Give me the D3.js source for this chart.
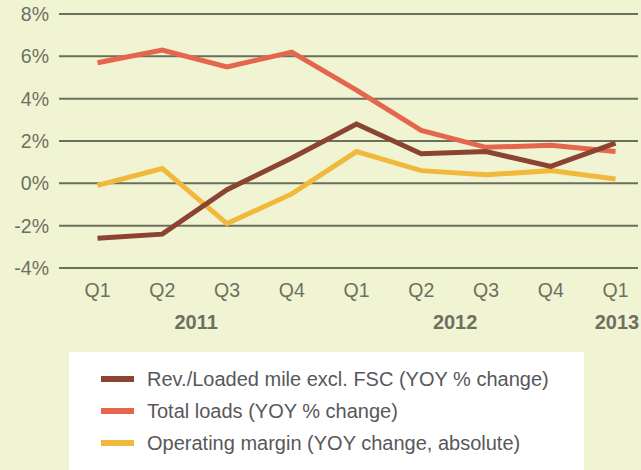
<!DOCTYPE html>
<html>
<head>
<meta charset="utf-8">
<script src="https://cdn.jsdelivr.net/npm/d3@7"></script>
<style>
body { margin: 0; background: #f1f4d3; }
svg { display: block; font-family: "Liberation Sans", Arial, sans-serif; }
</style>
</head>
<body>
<svg id="svg"></svg>
<script>
var width = 641, height = 470;

var quarters = ["Q1", "Q2", "Q3", "Q4", "Q1", "Q2", "Q3", "Q4", "Q1"];
var years = [{ label: "2011", pos: 1.5 }, { label: "2012", pos: 5.5 }, { label: "2013", pos: 8 }];
var yTicks = [-4, -2, 0, 2, 4, 6, 8];

var revPerMile = [-2.6, -2.4, -0.3, 1.2, 2.8, 1.4, 1.5, 0.8, 1.9];
var totalLoads = [5.7, 6.3, 5.5, 6.2, 4.4, 2.5, 1.7, 1.8, 1.5];
var opMargin = [-0.1, 0.7, -1.9, -0.5, 1.5, 0.6, 0.4, 0.6, 0.2];

var seriesNames = ["Rev./Loaded mile excl. FSC (YOY % change)", "Total loads (YOY % change)", "Operating margin (YOY change, absolute)"];
var seriesColors = ["#8b4332", "#e5664c", "#f1b93c"];
var series = [revPerMile, totalLoads, opMargin];

var svg = d3.select("#svg")
	.attr("width", width)
	.attr("height", height);

var x = d3.scaleLinear()
	.domain([0, 8])
	.range([97.5, 615.5]);

var y = d3.scaleLinear()
	.domain([-4, 8])
	.range([268, 14]);

// gridlines
svg.append("g")
	.selectAll("line")
	.data(yTicks)
	.enter()
	.append("line")
	.attr("x1", 59)
	.attr("x2", 638)
	.attr("y1", function(d) { return y(d); })
	.attr("y2", function(d) { return y(d); })
	.attr("stroke", "#6b705c")
	.attr("stroke-width", 2);

// y labels
svg.append("g")
	.selectAll("text")
	.data(yTicks)
	.enter()
	.append("text")
	.attr("x", 49)
	.attr("y", function(d) { return y(d); })
	.attr("dy", "0.36em")
	.attr("text-anchor", "end")
	.attr("font-size", "19.5px")
	.attr("fill", "#6d7061")
	.text(function(d) { return d + "%"; });

// quarter labels
svg.append("g")
	.selectAll("text")
	.data(quarters)
	.enter()
	.append("text")
	.attr("x", function(d, i) { return x(i); })
	.attr("y", 297)
	.attr("text-anchor", "middle")
	.attr("font-size", "19.5px")
	.attr("fill", "#6d7061")
	.text(function(d) { return d; });

// year labels
svg.append("g")
	.selectAll("text")
	.data(years)
	.enter()
	.append("text")
	.attr("x", function(d) { return x(d.pos) + 1.5; })
	.attr("y", 329)
	.attr("text-anchor", "middle")
	.attr("font-size", "20px")
	.attr("font-weight", "bold")
	.attr("fill", "#6d7061")
	.text(function(d) { return d.label; });

var lineGenerator = d3.line()
	.x(function(d, i) { return x(i); })
	.y(function(d) { return y(d); });

// draw lines: yellow first, then red, then brown on top
[2, 1, 0].forEach(function(k) {
	svg.append("path")
		.attr("fill", "none")
		.attr("stroke", seriesColors[k])
		.attr("stroke-width", 5)
		.attr("stroke-linejoin", "miter")
		.attr("d", lineGenerator(series[k]));
});

// legend
var legend = svg.append("g").attr("class", "legend");

legend.append("rect")
	.attr("x", 69)
	.attr("y", 352)
	.attr("width", 515)
	.attr("height", 130)
	.attr("fill", "#ffffff");

legend.selectAll(".swatch")
	.data(seriesNames)
	.enter()
	.append("rect")
	.attr("class", "swatch")
	.attr("x", 101)
	.attr("y", function(d, i) { return 376 + i * 32; })
	.attr("width", 33)
	.attr("height", 6)
	.attr("fill", function(d, i) { return seriesColors[i]; });

legend.selectAll(".label")
	.data(seriesNames)
	.enter()
	.append("text")
	.attr("class", "label")
	.attr("x", 147)
	.attr("y", function(d, i) { return 379 + i * 32; })
	.attr("dy", "0.36em")
	.attr("font-size", "20px")
	.attr("fill", "#58585a")
	.text(function(d) { return d; });
</script>
</body>
</html>
